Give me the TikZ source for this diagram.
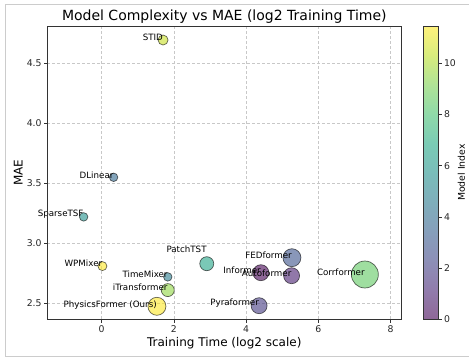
\documentclass[tikz,border=0pt]{standalone}
\usepackage{fontspec}
\setmainfont{DejaVu Sans}
\definecolor{v0}{RGB}{68,1,84}
\definecolor{v1}{RGB}{71,30,112}
\definecolor{v2}{RGB}{67,57,129}
\definecolor{v3}{RGB}{59,82,138}
\definecolor{v4}{RGB}{48,103,141}
\definecolor{v5}{RGB}{41,124,142}
\definecolor{v6}{RGB}{33,145,140}
\definecolor{v7}{RGB}{34,164,133}
\definecolor{v8}{RGB}{57,183,119}
\definecolor{v9}{RGB}{95,200,97}
\definecolor{v10}{RGB}{144,214,66}
\definecolor{v11}{RGB}{200,224,38}
\definecolor{v12}{RGB}{253,231,37}
\definecolor{b0}{RGB}{143,103,152}
\definecolor{b1}{RGB}{145,124,172}
\definecolor{b2}{RGB}{141,143,183}
\definecolor{b3}{RGB}{134,159,187}
\definecolor{b4}{RGB}{127,174,187}
\definecolor{b5}{RGB}{122,189,186}
\definecolor{b6}{RGB}{122,203,181}
\definecolor{b7}{RGB}{143,217,169}
\definecolor{b8}{RGB}{175,227,151}
\definecolor{b9}{RGB}{215,236,125}
\definecolor{b10}{RGB}{254,241,124}
\definecolor{framegray}{RGB}{204,204,204}
\definecolor{gridgray}{RGB}{200,200,200}
\begin{document}
\begin{tikzpicture}[x=1pt,y=-1pt,
  bub/.style={circle,inner sep=0pt,draw=black,draw opacity=0.6,fill opacity=0.6,line width=0.7pt},
  lab/.style={font=\fontsize{8.7}{10}\selectfont,inner sep=0pt,anchor=east,text=black},
  ticklab/.style={font=\fontsize{9.3}{10}\selectfont,inner sep=0pt,text=black!85},
  axlab/.style={font=\fontsize{12}{14}\selectfont,inner sep=0pt},
  gridline/.style={gridgray,line width=0.5pt,dash pattern=on 3pt off 2pt},
  spine/.style={black!80,line width=0.8pt},
  tickmark/.style={black!80,line width=0.8pt}]
\useasboundingbox (0,0) rectangle (469,359);
% outer frame
\draw[framegray,line width=0.8pt] (469,4) -- (5,4) -- (5,356) -- (469,356);
% grid
\foreach \gx in {0,2,4,6,8} \draw[gridline] ({101.7+36.1*\gx},26) -- ({101.7+36.1*\gx},319.3);
\foreach \gy in {2.5,3.0,3.5,4.0,4.5} \draw[gridline] (47.3,{303.3-120*(\gy-2.5)}) -- (401.3,{303.3-120*(\gy-2.5)});
% data
\begin{scope}[shift={(101.7,303.3)},x=36.1pt,y=120pt]
\node[bub,fill=v11,minimum size=10pt] (stid) at (1.70,2.194) {};
\node[bub,fill=v4,minimum size=8.5pt] (dlin) at (0.33,1.05) {};
\node[bub,fill=v6,minimum size=8.5pt] (sparse) at (-0.50,0.72) {};
\node[bub,fill=v12,minimum size=9pt] (wpm) at (0.02,0.31) {};
\node[bub,fill=v5,minimum size=8.5pt] (tmix) at (1.83,0.22) {};
\node[bub,fill=v10,minimum size=13pt] (itr) at (1.83,0.11) {};
\node[bub,fill=v12,minimum size=18pt] (phys) at (1.53,-0.025) {};
\node[bub,fill=v7,minimum size=14pt] (patch) at (2.91,0.33) {};
\node[bub,fill=v0,minimum size=16pt] (inf) at (4.41,0.255) {};
\node[bub,fill=v1,minimum size=16pt] (auto) at (5.26,0.23) {};
\node[bub,fill=v3,minimum size=18pt] (fed) at (5.27,0.38) {};
\node[bub,fill=v2,minimum size=16pt] (pyra) at (4.36,-0.02) {};
\node[bub,fill=v9,minimum size=27pt] (corr) at (7.29,0.24) {};
\end{scope}
% labels
\node[lab] (stidL) at ([yshift=2.5pt]stid.center) {STID};
\node[lab] (dlinL) at ([yshift=2.5pt]dlin.center) {DLinear};
\node[lab] (sparseL) at ([yshift=2.5pt]sparse.center) {SparseTSF};
\node[lab] (wpmL) at ([yshift=2.5pt]wpm.center) {WPMixer};
\node[lab] (tmixL) at ([yshift=2.5pt]tmix.center) {TimeMixer};
\node[lab] (itrL) at ([yshift=2.5pt]itr.center) {iTransformer};
\node[lab] (physL) at ([yshift=1pt]phys.center) {PhysicsFormer (Ours)};
\node[lab] (patchL) at ([yshift=14.7pt]patch.center) {PatchTST};
\node[lab] (infL) at ([yshift=2.5pt]inf.center) {Informer};
\node[lab] (autoL) at ([yshift=2pt]auto.center) {Autoformer};
\node[lab] (fedL) at ([yshift=2.5pt]fed.center) {FEDformer};
\node[lab] (pyraL) at ([yshift=2.5pt]pyra.center) {Pyraformer};
\node[lab] (corrL) at ([yshift=2.5pt]corr.center) {Corrformer};
% spines
\draw[spine] (47.3,26) rectangle (401.3,319.3);
% ticks
\foreach \gx in {0,2,4,6,8} {
  \draw[tickmark] ({101.7+36.1*\gx},319.3) -- ({101.7+36.1*\gx},322.8);
  \node[ticklab,anchor=north] at ({101.7+36.1*\gx},325.3) {\gx};
}
\foreach \gy in {2.5,3.0,3.5,4.0,4.5} {
  \draw[tickmark] (47.3,{303.3-120*(\gy-2.5)}) -- (43.8,{303.3-120*(\gy-2.5)});
  \node[ticklab,anchor=east] at (41.8,{303.3-120*(\gy-2.5)}) {\gy};
}
% titles
\node[font=\fontsize{14}{16}\selectfont,inner sep=0pt] (title) at (224.3,16.7) {Model Complexity vs MAE (log2 Training Time)};
\node[axlab] (xlab) at (224.3,343.3) {Training Time (log2 scale)};
\node[axlab,rotate=90] (ylab) at (18.3,172.6) {MAE};
% colorbar
\foreach \i/\ca/\cb in {0/b0/b1,1/b1/b2,2/b2/b3,3/b3/b4,4/b4/b5,5/b5/b6,6/b6/b7,7/b7/b8,8/b8/b9,9/b9/b10}
  \shade[bottom color=\ca,top color=\cb] (423.3,{319.3-\i*29.26+0.2}) rectangle (438.3,{319.3-(\i+1)*29.26-0.2});
\draw[spine] (423.3,26.7) rectangle (438.3,319.3);
\foreach \v in {0,2,4,6,8,10} {
  \draw[tickmark] (438.3,{319.3-25.6*\v}) -- (441.8,{319.3-25.6*\v});
  \node[ticklab,anchor=west] at (443.8,{319.3-25.6*\v}) {\v};
}
\node[font=\fontsize{9.3}{10}\selectfont,inner sep=0pt,rotate=90] (cblab) at (461.5,172.6) {Model Index};
\end{tikzpicture}
\end{document}
